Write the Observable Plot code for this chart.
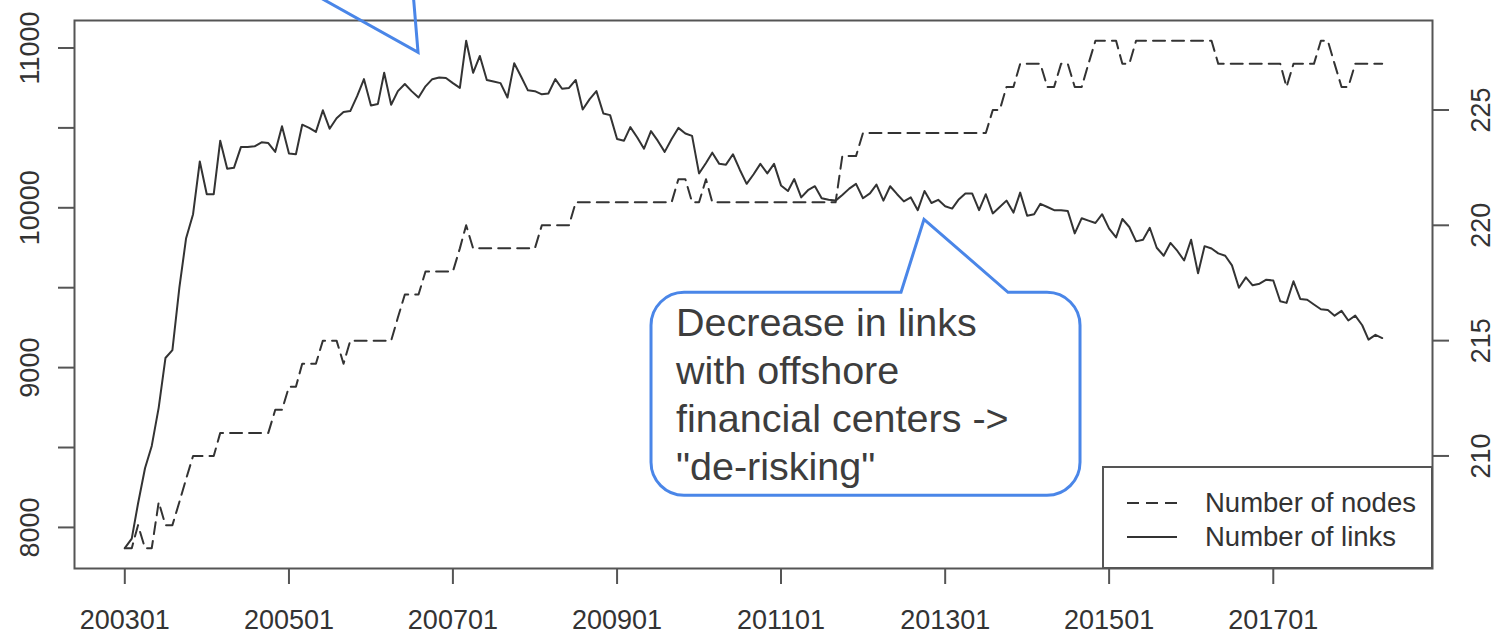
<!DOCTYPE html>
<html>
<head>
<meta charset="utf-8">
<script src="https://cdn.jsdelivr.net/npm/d3@7"></script>
<script src="https://cdn.jsdelivr.net/npm/@observablehq/plot@0.6"></script>
<style>
  html, body { margin: 0; padding: 0; background: #fff; }
  #chart { position: relative; width: 1496px; height: 635px; overflow: hidden; }
  #chart > svg { position: absolute; left: 0; top: 0; }
</style>
</head>
<body>
<div id="chart"></div>
<script>
// Monthly series, January 2003 to May 2018
const firstMonth = "200301";
const lastMonth = "201805";

// Number of links in the network (left axis)
const links = [
  7870, 7930, 8150, 8370, 8510, 8750, 9060, 9110, 9500, 9810, 9960, 10290,
  10085, 10085, 10420, 10245, 10250, 10380, 10380, 10385, 10410, 10405, 10350, 10510,
  10340, 10335, 10520, 10500, 10475, 10610, 10495, 10560, 10600, 10605, 10700, 10805,
  10640, 10650, 10845, 10645, 10730, 10775, 10730, 10690, 10760, 10805, 10815, 10812,
  10780, 10750, 11045, 10845, 10950, 10800, 10790, 10780, 10690, 10905, 10820, 10735,
  10730, 10710, 10715, 10805, 10745, 10750, 10800, 10615, 10680, 10730, 10590, 10580,
  10430, 10420, 10505, 10440, 10370, 10480, 10420, 10350, 10430, 10500, 10465, 10450,
  10215, 10280, 10345, 10275, 10270, 10335, 10240, 10150, 10210, 10275, 10215, 10275,
  10140, 10105, 10180, 10065, 10110, 10135, 10060, 10050, 10045, 10080, 10120, 10150,
  10060, 10090, 10145, 10045, 10135, 10085, 10040, 10065, 9985, 10105, 10030, 10050,
  10010, 9995, 10050, 10090, 10090, 9985, 10085, 9965, 10005, 10045, 9970, 10095,
  9950, 9960, 10025, 10005, 9985, 9985, 9980, 9840, 9935, 9920, 9905, 9960,
  9870, 9815, 9930, 9880, 9790, 9800, 9875, 9750, 9700, 9780, 9730, 9670,
  9800, 9590, 9760, 9745, 9715, 9700, 9640, 9500, 9565, 9515, 9525, 9550,
  9545, 9415, 9405, 9540, 9430, 9425, 9395, 9365, 9360, 9325, 9355, 9295,
  9325, 9265, 9175, 9205, 9185
];

// Number of nodes in the network (right axis)
const nodes = [
  206, 206, 207, 206, 206, 208, 207, 207, 208, 209, 210, 210,
  210, 210, 211, 211, 211, 211, 211, 211, 211, 211, 212, 212,
  213, 213, 214, 214, 214, 215, 215, 215, 214, 215, 215, 215,
  215, 215, 215, 215, 216, 217, 217, 217, 218, 218, 218, 218,
  218, 219, 220, 219, 219, 219, 219, 219, 219, 219, 219, 219,
  219, 220, 220, 220, 220, 220, 221, 221, 221, 221, 221, 221,
  221, 221, 221, 221, 221, 221, 221, 221, 221, 222, 222, 221,
  221, 222, 221, 221, 221, 221, 221, 221, 221, 221, 221, 221,
  221, 221, 221, 221, 221, 221, 221, 221, 221, 223, 223, 223,
  224, 224, 224, 224, 224, 224, 224, 224, 224, 224, 224, 224,
  224, 224, 224, 224, 224, 224, 224, 225, 225, 226, 226, 227,
  227, 227, 227, 226, 226, 227, 227, 226, 226, 227, 228, 228,
  228, 228, 227, 227, 228, 228, 228, 228, 228, 228, 228, 228,
  228, 228, 228, 228, 227, 227, 227, 227, 227, 227, 227, 227,
  227, 227, 226, 227, 227, 227, 227, 228, 228, 227, 226, 226,
  227, 227, 227, 227, 227
];

// Axis ticks
const xTickLabels = ["200301", "200501", "200701", "200901", "201101", "201301", "201501", "201701"];
const leftTicks = [8000, 8500, 9000, 9500, 10000, 10500, 11000];
const leftTickLabels = [8000, 9000, 10000, 11000];
const rightTicks = [210, 215, 220, 225];

// Legend entries
const seriesNames = ["Number of nodes", "Number of links"];

// Annotations: anchor month and links value at the pointer tip
const upperNoteAnchor = {month: "200608", links: 10970};
const lowerNoteAnchor = {month: "201210", links: 9925};
const lowerNoteLines = ["Decrease in links", "with offshore", "financial centers ->", "\"de-risking\""];

const parseMonth = d3.utcParse("%Y%m");
const formatMonth = d3.utcFormat("%Y%m");

const months = d3.utcMonth.range(parseMonth(firstMonth), d3.utcMonth.offset(parseMonth(lastMonth), 1));
const rows = months.map((date, i) => ({date, links: links[i], nodes: nodes[i]}));

// Extend a domain by 4% on each side, like a base R plot
function padded([a, b], f = 0.04) {
  const d = (b - a) * f;
  return [a - d, b + d];
}
const xDomain = padded(d3.extent(months, d => +d)).map(t => new Date(t));
const linksDomain = padded(d3.extent(links));
const nodesDomain = padded(d3.extent(nodes));

const W = 1496, H = 635;
const size = {width: W, height: H, marginLeft: 74, marginRight: 64, marginTop: 20, marginBottom: 67};
const font = '"Liberation Sans", Arial, Helvetica, sans-serif';
const ink = "#333";
const boxInk = "#555";
const dash = "12,7";
const labelSize = 27;

const linksPlot = Plot.plot({
  ...size,
  style: {background: "transparent", fontFamily: font, color: ink},
  x: {type: "utc", domain: xDomain},
  y: {domain: linksDomain},
  marks: [
    Plot.frame({stroke: boxInk, strokeWidth: 2}),
    Plot.axisX(xTickLabels.map(parseMonth), {
      tickSize: 16, tickPadding: 25, tickFormat: formatMonth, fontSize: labelSize,
      stroke: boxInk, strokeWidth: 2, fill: ink, label: null
    }),
    Plot.axisY(leftTicks, {tickSize: 16, tickFormat: () => "", stroke: boxInk, strokeWidth: 2, label: null}),
    Plot.text(leftTickLabels, {
      y: d => d, text: d => String(d), frameAnchor: "left", dx: -44, rotate: -90,
      textAnchor: "middle", lineAnchor: "middle", fontSize: labelSize, fill: ink
    }),
    Plot.line(rows, {x: "date", y: "links", stroke: ink, strokeWidth: 2})
  ]
});

const nodesPlot = Plot.plot({
  ...size,
  style: {background: "transparent", fontFamily: font, color: ink},
  x: {type: "utc", domain: xDomain, axis: null},
  y: {domain: nodesDomain},
  marks: [
    Plot.axisY(rightTicks, {anchor: "right", tickSize: 16, tickFormat: () => "", stroke: boxInk, strokeWidth: 2, label: null}),
    Plot.text(rightTicks, {
      y: d => d, text: d => String(d), frameAnchor: "right", dx: 49, rotate: -90,
      textAnchor: "middle", lineAnchor: "middle", fontSize: labelSize, fill: ink
    }),
    Plot.line(rows, {x: "date", y: "nodes", stroke: ink, strokeWidth: 2, strokeDasharray: dash})
  ]
});

const chart = document.getElementById("chart");
chart.append(linksPlot, nodesPlot);

// Legend and callouts on top of both plots
const sx = linksPlot.scale("x");
const sy = linksPlot.scale("y");
const tip = a => [sx.apply(parseMonth(a.month)), sy.apply(a.links)];

const over = d3.create("svg")
  .attr("width", W).attr("height", H)
  .style("font-family", font);

// Legend, boxed into the bottom-right corner of the frame
const frameRight = W - size.marginRight;
const frameBottom = H - size.marginBottom;
const lg = over.append("g").attr("transform", `translate(${frameRight - 329},${frameBottom - 101})`);
lg.append("rect").attr("width", 329).attr("height", 101)
  .attr("fill", "#fff").attr("stroke", boxInk).attr("stroke-width", 2);
seriesNames.forEach((name, k) => {
  const y = 36 + 34 * k;
  lg.append("line").attr("x1", 24).attr("x2", 74).attr("y1", y).attr("y2", y)
    .attr("stroke", ink).attr("stroke-width", 2)
    .attr("stroke-dasharray", k === 0 ? dash : null);
  lg.append("text").attr("x", 102).attr("y", y + 9).attr("font-size", 27.5)
    .attr("fill", ink).text(name);
});

const blue = "#4a86e8";

// Upper callout: only its pointer reaches into the chart
const [ux, uy] = tip(upperNoteAnchor);
over.append("path")
  .attr("d", `M${ux - 129},${uy - 72} L${ux},${uy} L${ux - 6},${uy - 72}`)
  .attr("fill", "none").attr("stroke", blue).attr("stroke-width", 3).attr("stroke-linejoin", "miter");

// Lower callout: rounded box with a pointer up to the links line
const [tx, ty] = tip(lowerNoteAnchor);
const L = tx - 273, R = tx + 156, T = ty + 73, B = ty + 276, r = 33;
over.append("path")
  .attr("d", `M${L + r},${T} H${tx - 23} L${tx},${ty} L${tx + 84},${T} H${R - r}
    A${r},${r} 0 0 1 ${R},${T + r} V${B - r} A${r},${r} 0 0 1 ${R - r},${B}
    H${L + r} A${r},${r} 0 0 1 ${L},${B - r} V${T + r} A${r},${r} 0 0 1 ${L + r},${T} Z`)
  .attr("fill", "#fff").attr("stroke", blue).attr("stroke-width", 3).attr("stroke-linejoin", "miter");
over.append("g")
  .attr("font-size", 39.5).attr("fill", "#3d3d3d")
  .selectAll("text").data(lowerNoteLines).join("text")
  .attr("x", L + 25).attr("y", (d, k) => T + 44 + 48 * k)
  .text(d => d);

chart.append(over.node());
</script>
</body>
</html>
